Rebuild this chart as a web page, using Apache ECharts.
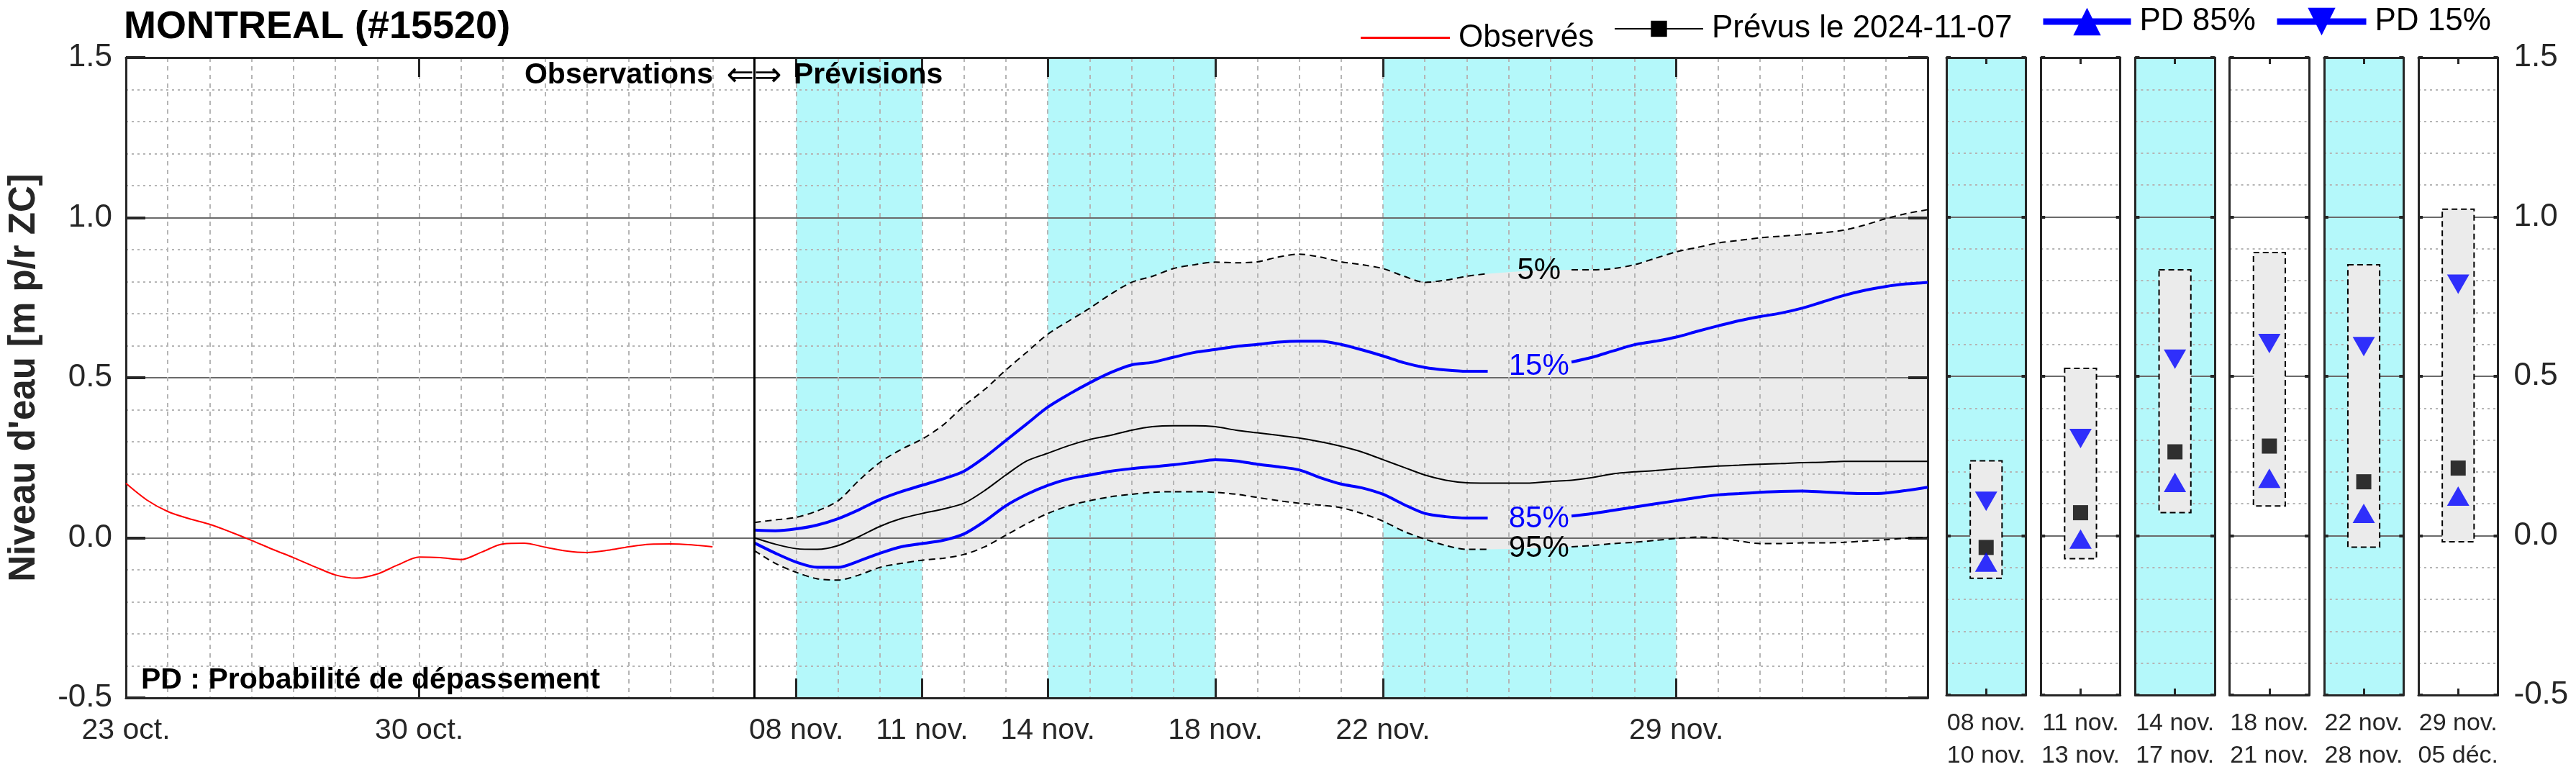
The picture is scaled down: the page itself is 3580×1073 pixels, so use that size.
<!DOCTYPE html>
<html><head><meta charset="utf-8">
<script src="https://cdn.jsdelivr.net/npm/echarts@6/dist/echarts.min.js"></script>
<style>html,body{margin:0;padding:0;background:#fff}#c{width:3580px;height:1073px}</style>
</head><body><div id="c"></div>
<script>
// ---------------- DATA ----------------
const originDate = '2024-10-23';          // left edge of the time axis
const axisEndDate = '2024-12-05';         // right edge of the time axis
const forecastStartDate = '2024-11-07';   // Observations <=> Prévisions
const xTickDates = ['2024-10-23','2024-10-30','2024-11-08','2024-11-11','2024-11-14','2024-11-18','2024-11-22','2024-11-29'];
const xTickLabels = ['23 oct.','30 oct.','08 nov.','11 nov.','14 nov.','18 nov.','22 nov.','29 nov.'];
const cyanStartDates = ['2024-11-08','2024-11-14','2024-11-22'];
const cyanEndDates   = ['2024-11-11','2024-11-18','2024-11-29'];
const yTickValues = [-0.5, 0.0, 0.5, 1.0, 1.5];

// Observed water level, every 12 h from 23 oct.
const obsStartDate = '2024-10-23';
const obsStepHours = 12;
const obsValues = [0.170,0.118,0.082,0.060,0.042,0.018,-0.008,-0.036,-0.062,-0.090,
  -0.116,-0.126,-0.113,-0.084,-0.060,-0.062,-0.068,-0.044,-0.019,-0.017,
  -0.029,-0.041,-0.046,-0.039,-0.028,-0.020,-0.019,-0.022,-0.028];

// Forecast (issued 2024-11-07), every 12 h from 7 nov.
const fcStartDate = '2024-11-07';
const fcStepHours = 12;
const fcQ5 = [0.048,0.056,0.064,0.084,0.116,0.180,0.236,0.276,0.308,0.352,
  0.412,0.464,0.524,0.580,0.636,0.677,0.717,0.761,0.798,0.817,
  0.841,0.853,0.861,0.859,0.862,0.877,0.886,0.877,0.862,0.853,
  0.841,0.817,0.798,0.805,0.817,0.825,0.830,0.834,0.836,0.837,
  0.837,0.841,0.853,0.873,0.893,0.907,0.921,0.929,0.937,0.942,
  0.947,0.953,0.961,0.977,0.997,1.013,1.025];
const fcPD15 = [0.024,0.022,0.028,0.040,0.060,0.088,0.120,0.144,0.164,0.184,
  0.208,0.252,0.304,0.356,0.408,0.448,0.484,0.516,0.540,0.548,
  0.564,0.579,0.588,0.598,0.604,0.611,0.614,0.614,0.604,0.587,
  0.568,0.547,0.532,0.524,0.520,0.520,0.521,0.530,0.540,0.549,
  0.564,0.584,0.603,0.614,0.627,0.645,0.662,0.678,0.691,0.702,
  0.717,0.737,0.757,0.773,0.785,0.793,0.798];
const fcPrevu = [0.000,-0.020,-0.034,-0.036,-0.024,0.004,0.036,0.060,0.076,0.090,
  0.108,0.148,0.196,0.240,0.264,0.288,0.307,0.320,0.336,0.347,
  0.350,0.350,0.347,0.336,0.328,0.320,0.312,0.300,0.286,0.268,
  0.244,0.220,0.196,0.180,0.172,0.171,0.171,0.171,0.176,0.180,
  0.188,0.200,0.206,0.210,0.216,0.220,0.224,0.227,0.230,0.232,
  0.235,0.236,0.239,0.239,0.239,0.239,0.239];
const fcPD85 = [-0.016,-0.048,-0.076,-0.092,-0.092,-0.072,-0.048,-0.028,-0.018,-0.008,
  0.012,0.052,0.100,0.136,0.164,0.184,0.196,0.208,0.216,0.222,
  0.228,0.236,0.244,0.240,0.230,0.222,0.212,0.188,0.168,0.156,
  0.136,0.104,0.076,0.066,0.062,0.062,0.062,0.064,0.066,0.068,
  0.076,0.086,0.096,0.106,0.116,0.126,0.134,0.138,0.142,0.145,
  0.146,0.143,0.140,0.138,0.140,0.148,0.158];
const fcQ95 = [-0.040,-0.080,-0.108,-0.128,-0.132,-0.116,-0.092,-0.080,-0.070,-0.064,
  -0.052,-0.028,0.008,0.044,0.076,0.100,0.116,0.128,0.136,0.142,
  0.144,0.144,0.142,0.136,0.126,0.116,0.108,0.102,0.094,0.076,
  0.052,0.020,-0.004,-0.024,-0.036,-0.036,-0.035,-0.033,-0.031,-0.028,
  -0.024,-0.018,-0.014,-0.008,-0.002,0.002,0.000,-0.010,-0.018,-0.018,
  -0.016,-0.016,-0.014,-0.010,-0.006,-0.001,0.002];

// Inline curve labels (placed on the curves, line broken around them)
const pctLabelTexts  = ['5%', '15%', '85%', '95%'];
const pctLabelDate   = '2024-11-25T17:20:00';
const pctLabelValues = [0.834, 0.534, 0.059, -0.033];

// Period panels
const panelLabels = ['08 nov.\n10 nov.','11 nov.\n13 nov.','14 nov.\n17 nov.','18 nov.\n21 nov.','22 nov.\n28 nov.','29 nov.\n05 déc.'];
const panelShaded = [true, false, true, false, true, false];
const panelQ5    = [0.235, 0.525, 0.834, 0.888, 0.850, 1.024];
const panelQ95   = [-0.134, -0.072, 0.072, 0.093, -0.036, -0.019];
const panelPD15  = [0.118, 0.315, 0.564, 0.613, 0.603, 0.799];
const panelPrevu = [-0.037, 0.072, 0.263, 0.281, 0.169, 0.212];
const panelPD85  = [-0.093, -0.021, 0.157, 0.170, 0.060, 0.114];

// ---------------- STYLE ----------------
const FONT = "'Liberation Sans', Arial, Helvetica, sans-serif";
const AX = '#262626';
const CYAN = '#b4f8fa';
const BAND = '#ebebeb';
const BLUE = '#0000ff';
const MAJOR = { color: '#6a6a6a', width: 2, type: 'solid' };
const MINOR = { color: '#b5b5b5', width: 2, type: [3, 5] };
const VGRID = { color: '#b5b5b5', width: 2, type: [6, 6] };
const FRAME = { show: true, onZero: false, lineStyle: { color: AX, width: 3 } };

const MS_DAY = 86400000;
const t0 = Date.parse(originDate + 'T00:00:00Z');
const dayOf = s => (Date.parse(s.length > 10 ? s + 'Z' : s + 'T00:00:00Z') - t0) / MS_DAY;
const xMax = dayOf(axisEndDate);
const tickDays = xTickDates.map(dayOf);
const fcDay0 = dayOf(fcStartDate);
const obsDay0 = dayOf(obsStartDate);
const fcX = fcQ5.map((_, i) => fcDay0 + i * fcStepHours / 24);
const obsData = obsValues.map((v, i) => [obsDay0 + i * obsStepHours / 24, v]);
const pctDay = dayOf(pctLabelDate);
const gapped = vals => vals.map((v, i) => [fcX[i], Math.abs(fcX[i] - pctDay) < 0.75 ? null : v]);
const full = vals => vals.map((v, i) => [fcX[i], v]);
const yMin = yTickValues[0], yMax = yTickValues[yTickValues.length - 1];

function pctMark(idx, color) {
  return {
    silent: true, symbol: 'rect', symbolSize: 1,
    itemStyle: { color: 'rgba(0,0,0,0)' },
    label: { show: true, position: 'inside', formatter: pctLabelTexts[idx], color: color, fontSize: 42, fontFamily: FONT },
    data: [{ coord: [pctDay, pctLabelValues[idx]] }]
  };
}

// ---------------- LAYOUT ----------------
const MAIN = { left: 171, top: 80, width: 2508, height: 890 };
const P0 = 2705, PSTEP = 131.2, PW = 110.5;

const grids = [Object.assign({ show: false }, MAIN)];
const xAxes = [
  { // day grid + bottom frame
    gridIndex: 0, type: 'value', min: 0, max: xMax, interval: 1, position: 'bottom', z: 2,
    axisLine: FRAME, axisTick: { show: false }, axisLabel: { show: false },
    splitLine: { show: true, lineStyle: VGRID }
  },
  { // date labels & ticks
    gridIndex: 0, type: 'value', min: 0, max: xMax, position: 'bottom', z: 2,
    axisLine: { show: false, onZero: false }, splitLine: { show: false },
    axisTick: { show: true, inside: true, length: 27, customValues: tickDays, lineStyle: { color: AX, width: 3 } },
    axisLabel: { show: true, customValues: tickDays, margin: 25, fontSize: 41, color: AX, fontFamily: FONT,
      formatter: v => { const k = tickDays.findIndex(d => Math.abs(d - v) < 1e-6); return k >= 0 ? xTickLabels[k] : ''; } }
  },
  { // top frame
    gridIndex: 0, type: 'value', min: 0, max: xMax, position: 'top', z: 2,
    axisLine: FRAME, splitLine: { show: false }, axisLabel: { show: false },
    axisTick: { show: true, inside: true, length: 27, customValues: tickDays, lineStyle: { color: AX, width: 3 } }
  }
];
const yAxes = [
  {
    gridIndex: 0, type: 'value', min: yMin, max: yMax, interval: 0.5, position: 'left', z: 2,
    axisLine: FRAME, axisTick: { show: true, inside: true, length: 27, lineStyle: { color: AX, width: 4 } },
    axisLabel: { show: true, margin: 19, fontSize: 44, color: AX, fontFamily: FONT, formatter: v => v.toFixed(1) },
    splitLine: { show: true, lineStyle: MAJOR },
    minorTick: { show: false, splitNumber: 5 },
    minorSplitLine: { show: true, lineStyle: MINOR },
    name: "Niveau d'eau [m p/r ZC]", nameLocation: 'middle', nameRotate: 90, nameGap: 116,
    nameTextStyle: { fontSize: 51, fontWeight: 'bold', color: AX, fontFamily: FONT }
  },
  {
    gridIndex: 0, type: 'value', min: yMin, max: yMax, interval: 0.5, position: 'right', z: 2,
    axisLine: FRAME, axisTick: { show: true, inside: true, length: 27, lineStyle: { color: AX, width: 4 } },
    axisLabel: { show: false }, splitLine: { show: false }
  }
];

const series = [
  {
    name: 'Observés', type: 'line', xAxisIndex: 0, yAxisIndex: 0, z: 3, color: '#ff0000',
    data: obsData, smooth: 0.3, symbol: 'none', lineStyle: { width: 2 }, silent: true,
    markLine: { silent: true, symbol: ['none', 'none'], label: { show: false },
      lineStyle: { color: '#000', width: 3, type: 'solid' }, data: [{ xAxis: fcDay0 }] }
  },
  {
    name: 'Prévus le 2024-11-07', type: 'line', xAxisIndex: 0, yAxisIndex: 0, z: 3, color: '#000',
    data: full(fcPrevu), smooth: 0.3, symbol: 'rect', symbolSize: 20, showSymbol: false, lineStyle: { width: 2 }, silent: true
  },
  {
    name: 'PD 85%', type: 'line', xAxisIndex: 0, yAxisIndex: 0, z: 4, color: BLUE,
    data: gapped(fcPD85), smooth: 0.3, symbol: 'triangle', showSymbol: false, lineStyle: { width: 4 }, silent: true,
    markPoint: pctMark(2, BLUE)
  },
  {
    name: 'PD 15%', type: 'line', xAxisIndex: 0, yAxisIndex: 0, z: 4, color: BLUE,
    data: gapped(fcPD15), smooth: 0.3, symbol: 'triangle', symbolRotate: 180, showSymbol: false, lineStyle: { width: 4 }, silent: true,
    markPoint: pctMark(1, BLUE)
  },
  {
    name: 'PD 5%', type: 'line', xAxisIndex: 0, yAxisIndex: 0, z: 3, color: '#000',
    data: gapped(fcQ5), smooth: 0.3, symbol: 'none', lineStyle: { width: 2, type: [9, 6] }, silent: true,
    markPoint: pctMark(0, '#000')
  },
  {
    name: 'PD 95%', type: 'line', xAxisIndex: 0, yAxisIndex: 0, z: 3, color: '#000',
    data: gapped(fcQ95), smooth: 0.3, symbol: 'none', lineStyle: { width: 2, type: [9, 6] }, silent: true,
    markPoint: pctMark(3, '#000')
  },
  { // grey band 5%..95% drawn as one polygon through the axis scales
    name: 'band', type: 'custom', xAxisIndex: 0, yAxisIndex: 0, z: 1, silent: true,
    data: fcX.map((x, i) => [x, fcQ95[i], fcQ5[i]]),
    renderItem: (params, api) => {
      if (params.dataIndex !== 0) return null;
      const pts = [];
      fcX.forEach((x, i) => pts.push(api.coord([x, fcQ5[i]])));
      for (let i = fcX.length - 1; i >= 0; i--) pts.push(api.coord([fcX[i], fcQ95[i]]));
      return { type: 'polygon', shape: { points: pts }, style: { fill: BAND, stroke: null } };
    }
  },
  { // cyan periods
    name: 'periods', type: 'custom', xAxisIndex: 0, yAxisIndex: 0, z: 0, silent: true,
    data: cyanStartDates.map((s, i) => [dayOf(s), dayOf(cyanEndDates[i])]),
    renderItem: (params, api) => {
      const a = api.coord([api.value(0), yMax]);
      const b = api.coord([api.value(1), yMin]);
      return { type: 'rect', shape: { x: a[0], y: a[1], width: b[0] - a[0], height: b[1] - a[1] }, style: { fill: CYAN } };
    }
  }
];

panelLabels.forEach((lab, i) => {
  const g = grids.length;
  grids.push({ left: P0 + PSTEP * i, top: MAIN.top, width: PW, height: MAIN.height, show: true,
    backgroundColor: panelShaded[i] ? CYAN : '#ffffff', borderWidth: 0 });
  const xb = xAxes.length;
  xAxes.push({
    gridIndex: g, type: 'category', data: [lab], position: 'bottom', z: 2,
    axisLine: FRAME, axisTick: { show: true, inside: true, alignWithLabel: true, length: 9, lineStyle: { color: AX, width: 3 } },
    axisLabel: { show: true, margin: 17, fontSize: 34, lineHeight: 45, color: AX, fontFamily: FONT },
    splitLine: { show: false }
  });
  xAxes.push({
    gridIndex: g, type: 'category', data: [lab], position: 'top', z: 2,
    axisLine: FRAME, axisTick: { show: true, inside: true, alignWithLabel: true, length: 9, lineStyle: { color: AX, width: 3 } },
    axisLabel: { show: false }, splitLine: { show: false }
  });
  const yl = yAxes.length;
  yAxes.push({
    gridIndex: g, type: 'value', min: yMin, max: yMax, interval: 0.5, position: 'left', z: 2,
    axisLine: FRAME, axisTick: { show: true, inside: true, length: 6, lineStyle: { color: AX, width: 4 } },
    axisLabel: { show: false }, splitLine: { show: true, lineStyle: MAJOR },
    minorTick: { show: false, splitNumber: 5 }, minorSplitLine: { show: true, lineStyle: MINOR }
  });
  yAxes.push({
    gridIndex: g, type: 'value', min: yMin, max: yMax, interval: 0.5, position: 'right', z: 2,
    axisLine: FRAME, axisTick: { show: true, inside: true, length: 6, lineStyle: { color: AX, width: 4 } },
    axisLabel: { show: i === panelLabels.length - 1, margin: 22, fontSize: 44, color: AX, fontFamily: FONT, formatter: v => v.toFixed(1) },
    splitLine: { show: false }
  });
  series.push({
    name: 'box' + i, type: 'custom', xAxisIndex: xb, yAxisIndex: yl, z: 3, silent: true,
    data: [[0, panelQ95[i], panelQ5[i]]],
    renderItem: (params, api) => {
      const top = api.coord([api.value(0), api.value(2)]);
      const bot = api.coord([api.value(0), api.value(1)]);
      const w = api.size([1, 0])[0] * 0.4;
      return { type: 'rect', shape: { x: top[0] - w / 2, y: top[1], width: w, height: bot[1] - top[1] },
        style: { fill: BAND, stroke: '#000', lineWidth: 2, lineDash: [8, 5] } };
    }
  });
  series.push({ name: 'PD 15%', type: 'scatter', xAxisIndex: xb, yAxisIndex: yl, z: 4, silent: true, color: BLUE,
    symbol: 'triangle', symbolRotate: 180, symbolSize: [31, 27], symbolOffset: [0, 4.5], data: [[0, panelPD15[i]]] });
  series.push({ name: 'Prévus le 2024-11-07', type: 'scatter', xAxisIndex: xb, yAxisIndex: yl, z: 4, silent: true, color: '#000',
    symbol: 'rect', symbolSize: 21, data: [[0, panelPrevu[i]]] });
  series.push({ name: 'PD 85%', type: 'scatter', xAxisIndex: xb, yAxisIndex: yl, z: 4, silent: true, color: BLUE,
    symbol: 'triangle', symbolSize: [31, 27], symbolOffset: [0, -4.5], data: [[0, panelPD85[i]]] });
});

const legendText = { fontSize: 44, color: '#000', fontFamily: FONT, padding: [0, 0, 0, 7] };
const option = {
  animation: false,
  backgroundColor: '#ffffff',
  textStyle: { fontFamily: FONT },
  title: { text: 'MONTREAL (#15520)', left: 172, top: 11, padding: 0,
    textStyle: { fontSize: 54, fontWeight: 'bold', color: '#000', fontFamily: FONT } },
  legend: [
    { data: [{ name: 'Observés', icon: 'rect' }], left: 1891, top: 30.5, padding: 0, itemWidth: 124, itemHeight: 3, textStyle: legendText, selectedMode: false },
    { data: ['Prévus le 2024-11-07'], left: 2243, top: 18, padding: 0, itemWidth: 123, itemHeight: 28, lineStyle: { width: 2 }, textStyle: legendText, selectedMode: false },
    { data: ['PD 85%'], left: 2835, top: 8, padding: 0, itemWidth: 122, itemHeight: 48, lineStyle: { width: 9 }, textStyle: legendText, selectedMode: false },
    { data: ['PD 15%'], left: 3160, top: 8, padding: 0, itemWidth: 124, itemHeight: 48, lineStyle: { width: 9 }, textStyle: legendText, selectedMode: false }
  ],
  graphic: [
    { type: 'text', x: 991, y: 105, z: 10, style: { text: 'Observations', align: 'right', verticalAlign: 'middle', fontSize: 41, fontWeight: 'bold', fontFamily: FONT, fill: '#000' } },
    { type: 'text', x: 1048, y: 107, z: 10, style: { text: '⇐⇒', align: 'center', verticalAlign: 'middle', fontSize: 46, fontFamily: "'DejaVu Sans', sans-serif", fill: '#000' } },
    { type: 'text', x: 1103, y: 105, z: 10, style: { text: 'Prévisions', align: 'left', verticalAlign: 'middle', fontSize: 41, fontWeight: 'bold', fontFamily: FONT, fill: '#000' } },
    { type: 'text', x: 196, y: 946, z: 10, style: { text: 'PD : Probabilité de dépassement', align: 'left', verticalAlign: 'middle', fontSize: 41, fontWeight: 'bold', fontFamily: FONT, fill: '#000' } }
  ],
  grid: grids,
  xAxis: xAxes,
  yAxis: yAxes,
  series: series
};

const chart = echarts.init(document.getElementById('c'), null, { renderer: 'canvas' });
chart.setOption(option);
</script>
</body></html>
